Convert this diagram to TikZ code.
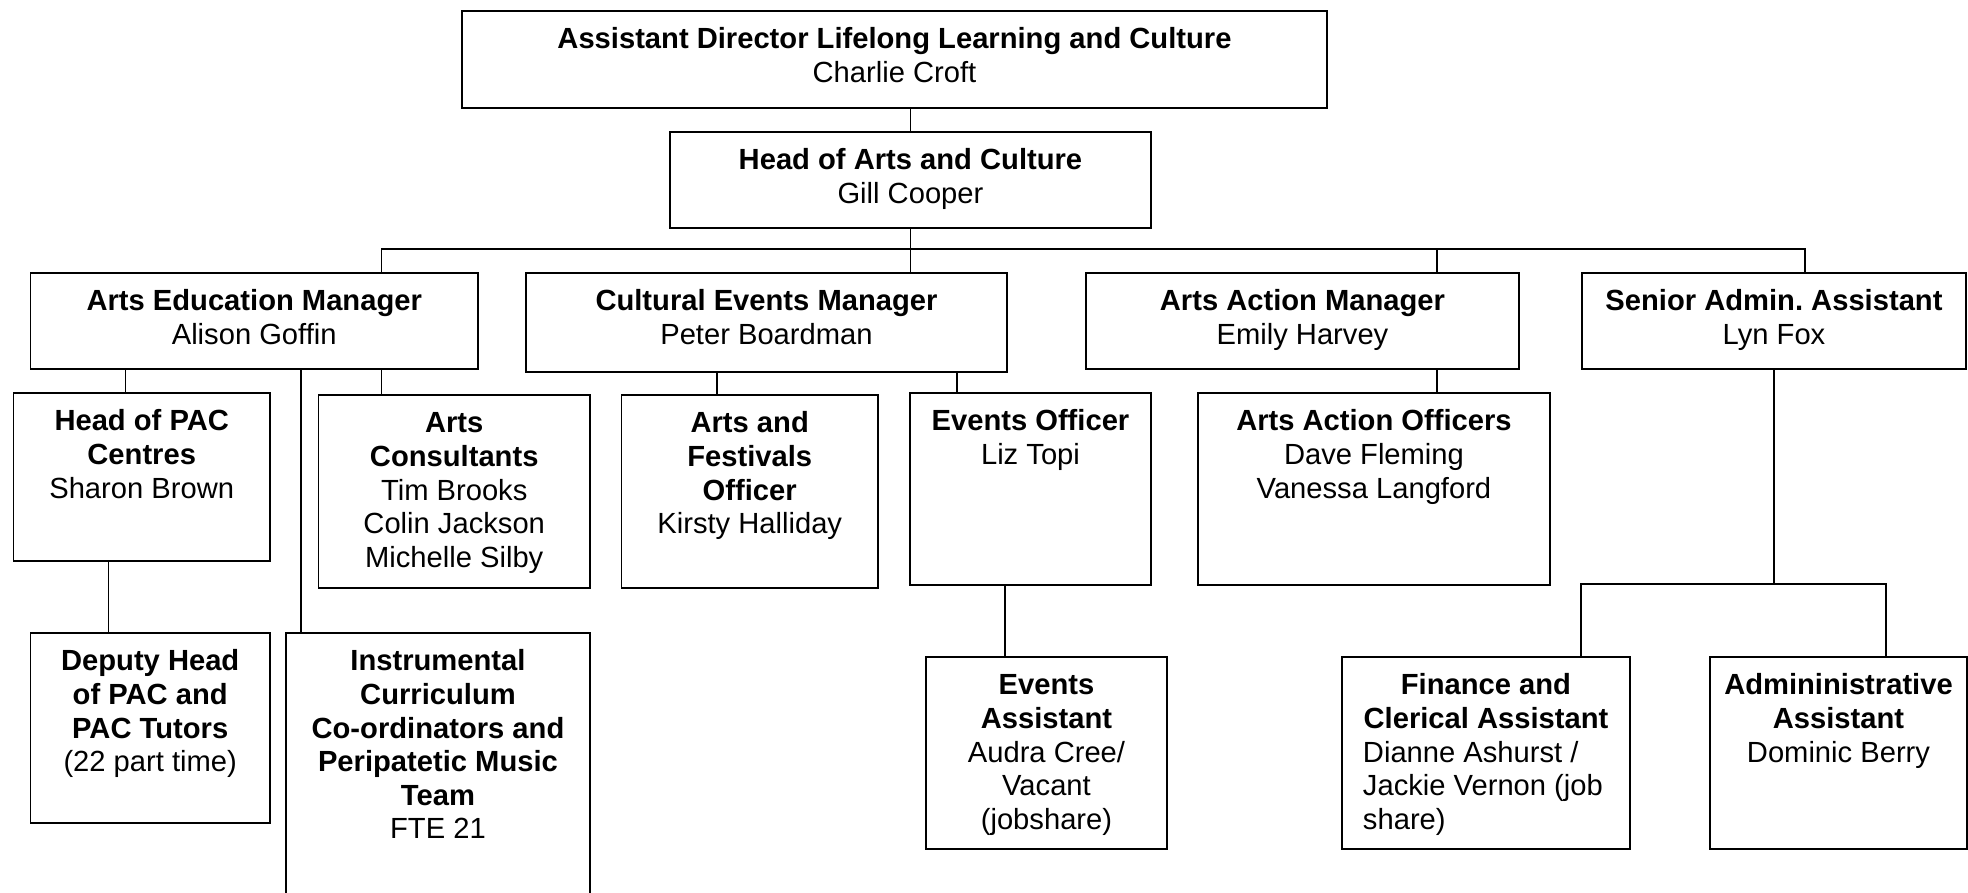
\documentclass[tikz,border=0pt]{standalone}
\usepackage{fontspec}
\setmainfont{Liberation Sans}
\usetikzlibrary{positioning}
\frenchspacing

\newlength{\pix}
\setlength{\pix}{0.4115pt}
% box content: width, height, text (top aligned)
\newcommand{\card}[3]{\parbox[c][#2\pix][t]{#1\pix}{\centering\rule{0pt}{38\pix}#3}}

\begin{document}
\begin{tikzpicture}[x=0.4115pt,y=-0.4115pt,
  post/.style={draw, line width=0.8pt, inner sep=0pt, anchor=north west,
    font=\fontsize{12}{13.8}\selectfont},
  link/.style={line width=0.5pt}]
\clip (0,0) rectangle (1968,892);

\node[post] (adll) at (461,10) {\card{865}{97}{\textbf{Assistant Director Lifelong Learning and Culture}\\Charlie Croft}};
\node[post] (haco) at (669,131) {\card{481}{96}{\textbf{Head of Arts and Culture}\\Gill Cooper}};

\node[post] (arted) at (29.5,272) {\card{447.5}{96}{\textbf{Arts Education Manager}\\Alison Goffin}};
\node[post] (cem) at (525,272) {\card{481}{99}{\textbf{Cultural Events Manager}\\Peter Boardman}};
\node[post] (aam) at (1085,272) {\card{433}{96}{\textbf{Arts Action Manager}\\Emily Harvey}};
\node[post] (sadm) at (1581,272) {\card{384}{96}{\textbf{Senior Admin. Assistant}\\Lyn Fox}};

\node[post] (pac) at (12.5,392) {\card{256.5}{168}{\textbf{Head of PAC}\\\textbf{Centres}\\Sharon Brown}};
\node[post] (cons) at (317.5,394) {\card{271.5}{193}{\textbf{Arts}\\\textbf{Consultants}\\Tim Brooks\\Colin Jackson\\Michelle Silby}};
\node[post] (fest) at (620.5,394) {\card{256.5}{193}{\textbf{Arts and}\\\textbf{Festivals}\\\textbf{Officer}\\Kirsty Halliday}};
\node[post] (evo) at (909,392) {\card{241}{192}{\textbf{Events Officer}\\Liz Topi}};
\node[post] (aao) at (1197,392) {\card{352}{192}{\textbf{Arts Action Officers}\\Dave Fleming\\Vanessa Langford}};

\node[post] (dep) at (29.5,632) {\card{239.5}{190}{\textbf{Deputy Head}\\\textbf{of PAC and}\\\textbf{PAC Tutors}\\(22 part time)}};
\node[post] (instr) at (285,632) {\card{304}{280}{\textbf{Instrumental}\\\textbf{Curriculum}\\\textbf{Co-ordinators and}\\\textbf{Peripatetic Music}\\\textbf{Team}\\FTE 21}};
\node[post] (eva) at (925,656) {\card{241}{192}{\textbf{Events}\\\textbf{Assistant}\\Audra Cree/\\Vacant\\(jobshare)}};
\node[post] (fin) at (1341,656) {\card{288}{192}{\textbf{Finance and}\\\textbf{Clerical Assistant}\par
  \raggedright\leftskip=21\pix Dianne Ashurst /\\Jackie Vernon (job\\share)}};
\node[post] (adm) at (1709,656) {\card{257}{192}{\textbf{Admininistrative}\\\textbf{Assistant}\\Dominic Berry}};

% drop points
\coordinate (bus) at (0,249);
\coordinate (lowbus) at (0,584);
\coordinate (d1) at (381.5,0);
\coordinate (d2) at (1437,0);
\coordinate (d3) at (1805,0);
\coordinate (d4) at (125.5,0);
\coordinate (d5) at (301,0);
\coordinate (d6) at (717,0);
\coordinate (d7) at (957,0);
\coordinate (d8) at (108.6,0);
\coordinate (d9) at (1005,0);
\coordinate (d10) at (1581,0);
\coordinate (d11) at (1886,0);

\draw[link] (adll.south -| haco.north) -- (haco.north);
\draw[link] (haco.south) -- (haco.south |- cem.north);
\draw[link] (arted.north -| d1) |- (bus -| d3) -- (sadm.north -| d3);
\draw[link] (bus -| d2) -- (aam.north -| d2);

\draw[link] (arted.south -| d4) -- (pac.north -| d4);
\draw[link] (arted.south -| d1) -- (cons.north -| d1);
\draw[link] (arted.south -| d5) -- (instr.north -| d5);
\draw[link] (cem.south -| d6) -- (fest.north -| d6);
\draw[link] (cem.south -| d7) -- (evo.north -| d7);
\draw[link] (aam.south -| d2) -- (aao.north -| d2);

\draw[link] (pac.south -| d8) -- (dep.north -| d8);
\draw[link] (evo.south -| d9) -- (eva.north -| d9);
\draw[link] (sadm.south) -- (sadm.south |- lowbus);
\draw[link] (fin.north -| d10) |- (lowbus -| d11) -- (adm.north -| d11);

\end{tikzpicture}
\end{document}
